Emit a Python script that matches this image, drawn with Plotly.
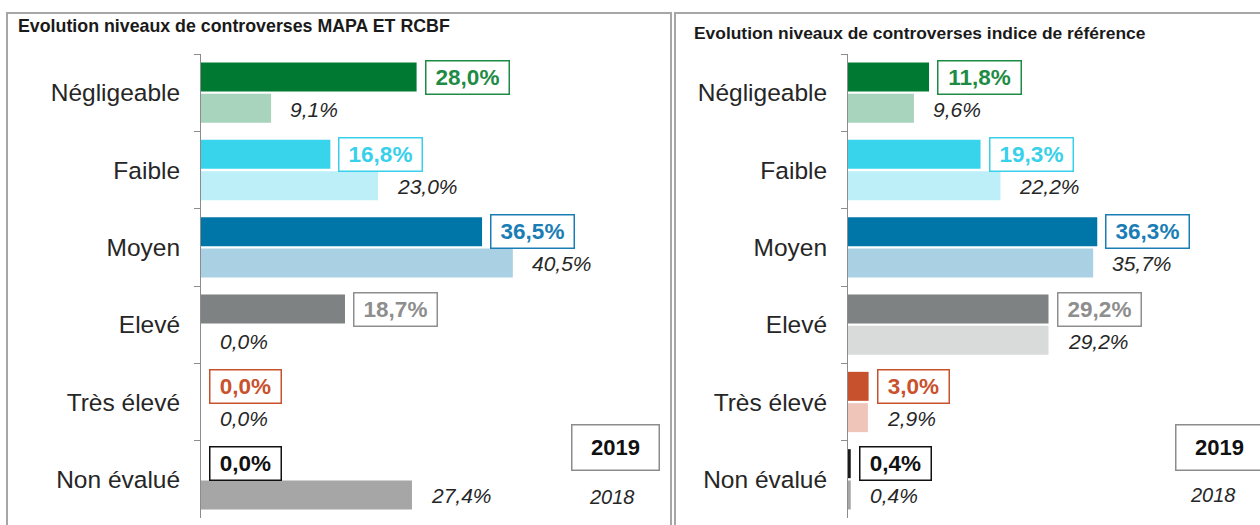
import plotly.graph_objects as go

# ---------------- data ----------------
categories = ["Négligeable", "Faible", "Moyen", "Elevé", "Très élevé", "Non évalué"]
mapa_2019 = [28.0, 16.8, 36.5, 18.7, 0.0, 0.0]
mapa_2018 = [9.1, 23.0, 40.5, 0.0, 0.0, 27.4]
ref_2019 = [11.8, 19.3, 36.3, 29.2, 3.0, 0.4]
ref_2018 = [9.6, 22.2, 35.7, 29.2, 2.9, 0.4]
titles = ["Evolution niveaux de controverses MAPA ET RCBF",
          "Evolution niveaux de controverses indice de référence"]
years = ["2019", "2018"]

# ---------------- styles ----------------
W, H = 1260, 525
colors_2019 = ["#007A33", "#38D4EC", "#0076A8", "#7F8282", "#C7512C", "#1A1A1A"]
colors_2018 = ["#A8D3BC", "#BCEFF8", "#A9D1E3", "#D9DADA", "#EEC5B8", "#A6A6A6"]
label_colors_2019 = ["#1E8B45", "#38D0EA", "#1A7DB5", "#8E8E8E", "#C9512C", "#111111"]
FONT = "Liberation Sans, Arial, sans-serif"
BORDER = "#A6A6A6"


def fx(p):
    return p / W


def fy(p):
    return 1 - p / H


def fmt(v):
    return f"{v:.1f}".replace(".", ",") + "%"


fig = go.Figure()

panels = [
    (mapa_2019, mapa_2018, "x", "y"),
    (ref_2019, ref_2018, "x2", "y2"),
]

annotations = []
for v19, v18, xa, ya in panels:
    fig.add_trace(go.Bar(
        y=categories, x=v19, orientation="h", xaxis=xa, yaxis=ya,
        marker=dict(color=colors_2019, line=dict(width=0)),
        width=0.375, offset=-0.39, hoverinfo="skip", showlegend=False,
    ))
    fig.add_trace(go.Bar(
        y=categories, x=v18, orientation="h", xaxis=xa, yaxis=ya,
        marker=dict(color=colors_2018, line=dict(width=0)),
        width=0.375, offset=0.015, hoverinfo="skip", showlegend=False,
    ))
    for i, cat in enumerate(categories):
        lbl = fmt(v19[i])
        annotations.append(dict(
            x=v19[i], y=cat, xref=xa, yref=ya, xanchor="left", yanchor="middle",
            xshift=8, yshift=15.5, text=f"<b>{lbl}</b>", showarrow=False,
            font=dict(family=FONT, size=22.5, color=label_colors_2019[i]),
            bordercolor=label_colors_2019[i], borderwidth=1.5, borderpad=4,
            width=12 * len(lbl) + 14, height=24, bgcolor="rgba(255,255,255,0)",
        ))
        annotations.append(dict(
            x=v18[i], y=cat, xref=xa, yref=ya, xanchor="left", yanchor="middle",
            xshift=17, yshift=-16.5, text=f"<i>{fmt(v18[i])}</i>", showarrow=False,
            font=dict(family=FONT, size=21, color="#262626"),
        ))

# titles
annotations.append(dict(x=fx(16), y=fy(26), xref="paper", yref="paper", xanchor="left",
                        yanchor="middle", text=f"<b>{titles[0]}</b>", showarrow=False,
                        font=dict(family=FONT, size=17.8, color="#1A1A1A")))
annotations.append(dict(x=fx(692), y=fy(33), xref="paper", yref="paper", xanchor="left",
                        yanchor="middle", text=f"<b>{titles[1]}</b>", showarrow=False,
                        font=dict(family=FONT, size=17.4, color="#1A1A1A")))

# year legends
for cx19, cx18, cy18 in [(615, 612, 497), (1219, 1213, 495)]:
    annotations.append(dict(x=fx(cx19), y=fy(447), xref="paper", yref="paper",
                            xanchor="center", yanchor="middle", text=f"<b>{years[0]}</b>",
                            showarrow=False, font=dict(family=FONT, size=22, color="#111111"),
                            bordercolor="#8C8C8C", borderwidth=1.5, borderpad=3,
                            width=80, height=38))
    annotations.append(dict(x=fx(cx18), y=fy(cy18), xref="paper", yref="paper",
                            xanchor="center", yanchor="middle", text=f"<i>{years[1]}</i>",
                            showarrow=False, font=dict(family=FONT, size=20, color="#262626")))

# panel borders
shapes = [
    dict(type="rect", xref="paper", yref="paper", x0=fx(7), x1=fx(671), y0=-0.1, y1=fy(13),
         line=dict(color=BORDER, width=2), fillcolor="rgba(0,0,0,0)", layer="below"),
    dict(type="rect", xref="paper", yref="paper", x0=fx(675), x1=fx(1275), y0=-0.1, y1=fy(13),
         line=dict(color=BORDER, width=2), fillcolor="rgba(0,0,0,0)", layer="below"),
]

yaxis_common = dict(
    type="category", categoryorder="array", categoryarray=categories,
    range=[5.5, -0.5], domain=[fy(518), fy(54)],
    showline=True, linecolor="#8C8C8C", linewidth=1,
    ticks="outside", tickson="boundaries", ticklen=6, tickcolor="#8C8C8C", tickwidth=1,
    showgrid=False, zeroline=False, ticklabelstandoff=15,
    tickfont=dict(family=FONT, size=24.5, color="#262626"),
    fixedrange=True,
)
xaxis_common = dict(range=[0, 60], showline=False, showticklabels=False, ticks="",
                    showgrid=False, zeroline=False, fixedrange=True)

fig.update_layout(
    width=W, height=H,
    margin=dict(l=0, r=0, t=0, b=0),
    paper_bgcolor="white", plot_bgcolor="rgba(0,0,0,0)",
    barmode="overlay",
    xaxis=dict(domain=[fx(201), fx(663)], anchor="y", **xaxis_common),
    xaxis2=dict(domain=[fx(848), fx(1260)], anchor="y2", **xaxis_common),
    yaxis=dict(anchor="x", **yaxis_common),
    yaxis2=dict(anchor="x2", **yaxis_common),
    annotations=annotations,
    shapes=shapes,
    font=dict(family=FONT),
)

fig.write_html("out.html", config={"displayModeBar": False},
               post_script="document.body.style.margin='0';")
